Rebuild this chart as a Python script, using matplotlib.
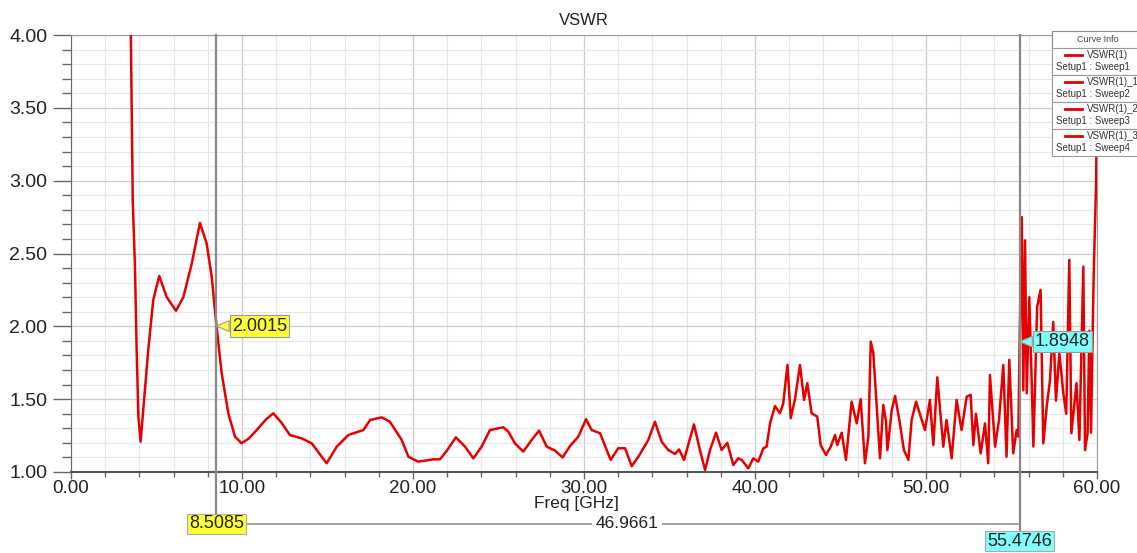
import numpy as np
import matplotlib.pyplot as plt
import matplotlib.transforms as mtransforms
from matplotlib.patches import Rectangle
from matplotlib.ticker import MultipleLocator, FormatStrFormatter

plt.rcParams['font.family'] = ['Liberation Sans', 'DejaVu Sans']

# VSWR curve (Freq in GHz)
freq = [3.3, 3.5, 3.61, 3.74, 3.84, 3.94, 4.07, 4.27, 4.52, 4.81, 5.16, 5.6, 6.14, 6.57,
        7.06, 7.54, 7.93, 8.23, 8.5085, 8.81, 9.2, 9.59, 9.98, 10.4, 10.86, 11.4, 11.83,
        12.3, 12.8, 13.49, 14.08, 14.5, 14.95, 15.54, 16.22, 17.1, 17.49, 18.17, 18.65,
        19.34, 19.73, 20.31, 21.19, 21.58, 22.0, 22.51, 23.04, 23.53, 24.01, 24.5, 25.28,
        25.57, 25.96, 26.45, 26.94, 27.37, 27.82, 28.3, 28.75, 29.18, 29.67, 30.12, 30.45,
        30.94, 31.56, 32.0, 32.4, 32.79, 33.18, 33.76, 34.15, 34.54, 34.93, 35.32, 35.56,
        35.85, 36.43, 36.78, 37.08, 37.37, 37.72, 38.05, 38.38, 38.73, 39.02, 39.22, 39.61,
        39.9, 40.19, 40.49, 40.68, 40.88, 41.17, 41.46, 41.65, 41.9, 42.09, 42.34, 42.63,
        42.87, 43.06, 43.31, 43.64, 43.84, 44.15, 44.43, 44.68, 44.81, 45.07, 45.32, 45.65,
        45.95, 46.18, 46.43, 46.63, 46.77, 46.92, 47.31, 47.5, 47.66, 47.74, 48.0, 48.19,
        48.44, 48.71, 48.97, 49.16, 49.42, 49.69, 49.94, 50.23, 50.43, 50.66, 51.01, 51.2,
        51.5, 51.79, 52.08, 52.38, 52.61, 52.77, 52.92, 53.2, 53.45, 53.64, 53.74, 54.04,
        54.27, 54.52, 54.71, 54.87, 55.1, 55.3, 55.4, 55.4746, 55.6, 55.69, 55.79, 55.89,
        56.04, 56.18, 56.28, 56.5, 56.7, 56.86, 57.06, 57.25, 57.44, 57.6, 57.8, 58.03,
        58.2, 58.38, 58.5, 58.7, 58.8, 58.97, 59.2, 59.3, 59.45, 59.55, 59.65, 59.8, 59.95,
        60.0]
vswr = [5.0, 4.0, 2.87, 2.41, 1.84, 1.38, 1.208, 1.49, 1.84, 2.18, 2.346, 2.2, 2.107, 2.2,
        2.43, 2.71, 2.57, 2.34, 2.0015, 1.68, 1.403, 1.243, 1.197, 1.23, 1.288, 1.36, 1.403,
        1.34, 1.254, 1.231, 1.197, 1.13, 1.06, 1.174, 1.254, 1.288, 1.357, 1.375, 1.345,
        1.22, 1.105, 1.071, 1.087, 1.087, 1.15, 1.238, 1.174, 1.094, 1.174, 1.288, 1.307,
        1.277, 1.197, 1.14, 1.22, 1.284, 1.174, 1.147, 1.10, 1.178, 1.243, 1.362, 1.288,
        1.266, 1.083, 1.163, 1.163, 1.04, 1.105, 1.22, 1.345, 1.208, 1.151, 1.124, 1.155,
        1.083, 1.327, 1.151, 1.014, 1.151, 1.27, 1.151, 1.2, 1.048, 1.094, 1.083, 1.025,
        1.094, 1.071, 1.163, 1.174, 1.334, 1.453, 1.403, 1.47, 1.735, 1.37, 1.5, 1.735,
        1.495, 1.61, 1.403, 1.38, 1.185, 1.117, 1.174, 1.254, 1.185, 1.27, 1.083, 1.483,
        1.334, 1.5, 1.06, 1.243, 1.895, 1.815, 1.094, 1.46, 1.35, 1.15, 1.426, 1.522,
        1.357, 1.15, 1.083, 1.357, 1.483, 1.38, 1.288, 1.495, 1.185, 1.65, 1.174, 1.357,
        1.094, 1.495, 1.288, 1.517, 1.53, 1.185, 1.40, 1.128, 1.334, 1.06, 1.666, 1.174,
        1.357, 1.735, 1.105, 1.77, 1.128, 1.288, 1.243, 1.8948, 2.75, 1.56, 2.59, 1.54,
        2.20, 1.63, 1.175, 2.135, 2.25, 1.197, 1.45, 1.63, 2.03, 1.49, 1.815, 1.54,
        1.40, 2.456, 1.266, 1.49, 1.61, 1.22, 2.41, 1.15, 1.266, 1.97, 1.27, 2.32, 3.0,
        3.6]

m1_x, m1_y = 8.5085, 2.0015
m2_x, m2_y = 55.4746, 1.8948
delta = 46.9661
curve_names = ['VSWR(1)', 'VSWR(1)_1', 'VSWR(1)_2', 'VSWR(1)_3']
sweep_names = ['Setup1 : Sweep1', 'Setup1 : Sweep2', 'Setup1 : Sweep3', 'Setup1 : Sweep4']

fig = plt.figure(figsize=(11.37, 5.53), dpi=100)
ax = fig.add_axes([71/1137, 81/553, 1026/1137, 437/553])

ax.plot(freq, vswr, color='#e60000', lw=1.8, zorder=3, solid_joinstyle='round')
ax.set_xlim(0, 60)
ax.set_ylim(1, 4)

ax.xaxis.set_major_locator(MultipleLocator(10))
ax.xaxis.set_minor_locator(MultipleLocator(2))
ax.yaxis.set_major_locator(MultipleLocator(0.5))
ax.yaxis.set_minor_locator(MultipleLocator(0.1))
ax.xaxis.set_major_formatter(FormatStrFormatter('%.2f'))
ax.yaxis.set_major_formatter(FormatStrFormatter('%.2f'))

ax.tick_params(axis='y', which='major', length=13, width=1, color='#666666', pad=4,
               labelsize=14, labelcolor='#222222')
ax.tick_params(axis='y', which='minor', length=6.5, width=1, color='#666666')
ax.tick_params(axis='x', which='major', length=5, width=1, color='#666666', pad=1,
               labelsize=13.5, labelcolor='#222222')
ax.tick_params(axis='x', which='minor', length=3.5, width=1, color='#666666')

ax.grid(which='major', color='#cccccc', lw=0.9)
ax.grid(which='minor', color='#e6e6e6', lw=0.8)
ax.set_axisbelow(True)

for s in ['top', 'right']:
    ax.spines[s].set_color('#999999')
ax.spines['left'].set_color('#666666')
ax.spines['bottom'].set_color('#555555')
ax.spines['bottom'].set_linewidth(1.5)

ax.set_title('VSWR', fontsize=12, pad=7, color='#222222')
ax.set_xlabel('Freq [GHz]', fontsize=12.5, labelpad=0, color='#222222')
ax.xaxis.set_label_coords(0.493, -0.055)

# cursors and delta below the axis
trans = mtransforms.blended_transform_factory(ax.transData, ax.transAxes)
def yf(py):
    return (472 - py) / 437.0

ax.plot([m1_x, m1_x], [1, yf(516)], transform=trans, color='#888888', lw=1.6,
        clip_on=False, zorder=4)
ax.plot([m2_x, m2_x], [1, yf(532)], transform=trans, color='#888888', lw=1.6,
        clip_on=False, zorder=4)
ax.plot([m1_x, m2_x], [yf(524), yf(524)], transform=trans, color='#999999', lw=1.3,
        clip_on=False, zorder=4)
ax.text((m1_x + m2_x) / 2 + 0.5, yf(524), '%.4f' % delta, transform=trans, ha='center',
        va='center', fontsize=12.5, color='#222222', zorder=5,
        bbox=dict(boxstyle='square,pad=0.2', fc='white', ec='none'))
ax.text(m1_x, yf(524), '%.4f' % m1_x, transform=trans, ha='center', va='center',
        fontsize=13, color='#222222', zorder=6,
        bbox=dict(boxstyle='square,pad=0.1', fc='#ffff33', ec='#aaaaaa', lw=0.8))
ax.text(m2_x, yf(541), '%.4f' % m2_x, transform=trans, ha='center', va='center',
        fontsize=13, color='#222222', zorder=6,
        bbox=dict(boxstyle='square,pad=0.1', fc='#80ffff', ec='#aaaaaa', lw=0.8))

# marker callouts
for mx, my, col in [(m1_x, m1_y, '#ffff33'), (m2_x, m2_y, '#80ffff')]:
    ax.annotate('%.4f' % my, xy=(mx, my), xytext=(11, 0), textcoords='offset points',
                ha='left', va='center', fontsize=13, color='#222222', zorder=6,
                bbox=dict(boxstyle='square,pad=0.12', fc=col, ec='#999999', lw=0.8),
                arrowprops=dict(arrowstyle='wedge,tail_width=0.6,shrink_factor=0.5',
                                fc=col, ec='#999999', lw=0.8, shrinkA=0, shrinkB=0))

# "Curve Info" legend box
lax = fig.add_axes([1051/1137, (553-157)/553, 95/1137, 127/553], zorder=10)
lax.set_xlim(1051, 1146)
lax.set_ylim(157, 30)
lax.set_axis_off()
lax.add_patch(Rectangle((1052, 31), 92, 125, fc='white', ec='#888888', lw=0.8))
lax.text(1098, 39.5, 'Curve Info', ha='center', va='center', fontsize=6.5, color='#444444')
tops = [48, 75, 102, 129]
for top, name, sweep in zip(tops, curve_names, sweep_names):
    lax.add_patch(Rectangle((1052, top), 92, 27, fc='white', ec='#999999', lw=0.8))
    lax.plot([1065, 1082], [top + 7, top + 7], color='#e60000', lw=2)
    lax.text(1087, top + 7, name, ha='left', va='center', fontsize=7, color='#333333')
    lax.text(1056, top + 18.5, sweep, ha='left', va='center', fontsize=7, color='#333333')

fig.savefig('out.png', dpi=100)
